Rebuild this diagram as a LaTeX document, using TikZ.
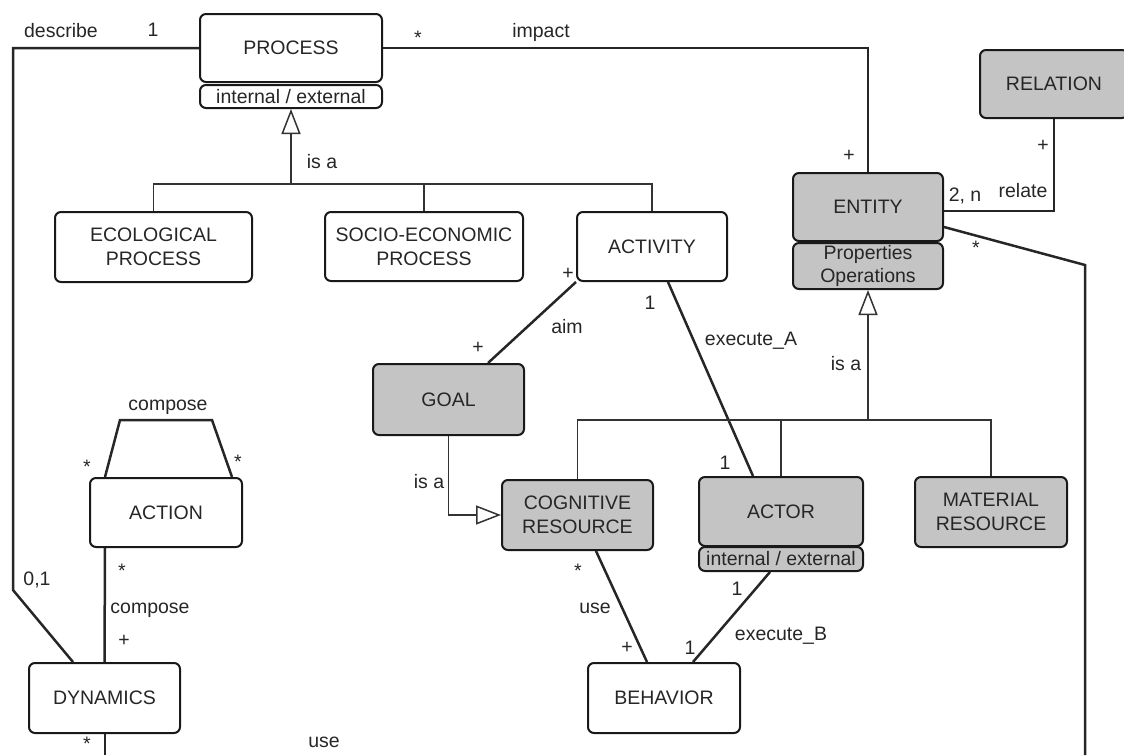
\documentclass[tikz,border=0pt]{standalone}
\usepackage{fontspec}
\setmainfont{Liberation Sans}
\usetikzlibrary{arrows.meta}
\definecolor{boxgray}{RGB}{196,196,196}
\definecolor{ink}{RGB}{38,38,38}
\begin{document}
\begin{tikzpicture}[x=1pt,y=-1pt,
  every node/.style={font=\fontsize{19.5pt}{24pt}\selectfont, text=ink},
  box/.style={draw=black!90, line width=2pt, rounded corners=6pt, fill=white, align=center, inner sep=0pt},
  gbox/.style={box, fill=boxgray},
  assoc/.style={line width=2.5pt, draw=black!85},
  genline/.style={line width=1.5pt, draw=black!80},
  genarrow/.style={genline, -{Triangle[open, length=25pt, width=19pt, line width=1.5pt]}},
  lbl/.style={anchor=base, inner sep=0pt},
]
\useasboundingbox (0,0) rectangle (1124,755);

% ---------- boxes ----------
\node[box, minimum width=182pt, minimum height=68pt] (process) at (291,48) {PROCESS};
\node[box, minimum width=182pt, minimum height=23pt] (processattr) at (291,96.5) {internal / external};
\node[box, minimum width=197pt, minimum height=70pt] (ecological) at (153.5,247) {ECOLOGICAL\\PROCESS};
\node[box, minimum width=198pt, minimum height=69pt] (socio) at (424,246.5) {SOCIO-ECONOMIC\\PROCESS};
\node[box, minimum width=150pt, minimum height=69pt] (activity) at (652,246.5) {ACTIVITY};
\node[gbox, minimum width=150pt, minimum height=68pt] (entity) at (868,207) {ENTITY};
\node[gbox, minimum width=150pt, minimum height=46pt, font=\fontsize{19.5pt}{23pt}\selectfont] (entityattr) at (868,266) {Properties\\Operations};
\node[gbox, minimum width=148pt, minimum height=68pt] (relation) at (1054,84) {RELATION};
\node[gbox, minimum width=151pt, minimum height=71pt] (goal) at (448.5,399.5) {GOAL};
\node[gbox, minimum width=151pt, minimum height=70pt] (cognitive) at (577.5,515) {COGNITIVE\\RESOURCE};
\node[gbox, minimum width=164pt, minimum height=69pt] (actor) at (781,511.5) {ACTOR};
\node[gbox, minimum width=164pt, minimum height=24pt] (actorattr) at (781,559) {internal / external};
\node[gbox, minimum width=152pt, minimum height=70pt] (material) at (991,512) {MATERIAL\\RESOURCE};
\node[box, minimum width=152pt, minimum height=69pt] (action) at (166,512.5) {ACTION};
\node[box, minimum width=151pt, minimum height=70pt] (dynamics) at (104.5,698) {DYNAMICS};
\node[box, minimum width=152pt, minimum height=70pt] (behavior) at (664,698) {BEHAVIOR};

% ---------- free ends ----------
\coordinate (dynend) at (105,755);
\coordinate (entend) at (1085,755);
\coordinate (pbar) at (291,184);
\coordinate (ebar) at (868,420);

% ---------- associations ----------
\draw[assoc] (process.west) -- (13,48) -- (13,590) -- ([xshift=-31.5pt]dynamics.north);
\draw[assoc] (process.east) -| (entity.north);
\draw[assoc] (relation.south) |- ([yshift=-4pt]entity.east);
\draw[assoc] ([yshift=-20pt]entity.east) -- (1085,265) -- (entend);
\draw[assoc] ([xshift=0.5pt]dynamics.south) -- (dynend);
\draw[assoc] (activity.south west) -- ([xshift=39.5pt]goal.north);
\draw[assoc] ([xshift=16pt]activity.south) -- ([xshift=-28pt]actor.north);
\draw[assoc] ([xshift=18.5pt]cognitive.south) -- ([xshift=-17pt]behavior.north);
\draw[assoc] ([xshift=-11pt]actorattr.south) -- ([xshift=29pt]behavior.north);
\draw[assoc] ([xshift=-61pt]action.south) -- (dynamics.north);
\draw[assoc] ([xshift=-61pt]action.north) -- (120,420) -- (212,420) -- ([xshift=66pt]action.north);

% ---------- generalizations ----------
\draw[genline] (ecological.north) |- (pbar) -| (activity.north);
\draw[genline] (socio.north) -- (socio.north |- pbar);
\draw[genarrow] (pbar) -- (processattr.south);
\draw[genline] (cognitive.north) |- (ebar) -| (material.north);
\draw[genline] (actor.north) -- (actor.north |- ebar);
\draw[genarrow] (ebar) -- (entityattr.south);
\draw[genarrow] (goal.south) |- (cognitive.west);

% ---------- labels ----------
\node[lbl] (l1) at (61,37) {describe};
\node[lbl] (l2) at (153,36) {1};
\node[lbl] (l3) at (418,44) {*};
\node[lbl] (l4) at (541,37) {impact};
\node[lbl] (l5) at (849,161) {+};
\node[lbl] (l6) at (1043,151) {+};
\node[lbl] (l7) at (1023,197) {relate};
\node[lbl] (l8) at (965,201) {2, n};
\node[lbl] (l9) at (976,254) {*};
\node[lbl] (l10) at (322,168) {is a};
\node[lbl] (l11) at (568,279) {+};
\node[lbl] (l12) at (650,309) {1};
\node[lbl] (l13) at (567,333) {aim};
\node[lbl] (l14) at (478,353) {+};
\node[lbl] (l15) at (751,345) {execute\_A};
\node[lbl] (l16) at (725,469) {1};
\node[lbl] (l17) at (846,370) {is a};
\node[lbl] (l18) at (429,488) {is a};
\node[lbl] (l19) at (578,577) {*};
\node[lbl] (l20) at (595,613) {use};
\node[lbl] (l21) at (627,653) {+};
\node[lbl] (l22) at (737,595) {1};
\node[lbl] (l23) at (781,640) {execute\_B};
\node[lbl] (l24) at (690,654) {1};
\node[lbl] (l25) at (168,410) {compose};
\node[lbl] (l26) at (87,473) {*};
\node[lbl] (l27) at (238,468) {*};
\node[lbl] (l28) at (122,577) {*};
\node[lbl] (l29) at (37,585) {0,1};
\node[lbl] (l30) at (150,613) {compose};
\node[lbl] (l31) at (124,646) {+};
\node[lbl] (l32) at (87,750) {*};
\node[lbl] (l33) at (324,747) {use};
\end{tikzpicture}
\end{document}
